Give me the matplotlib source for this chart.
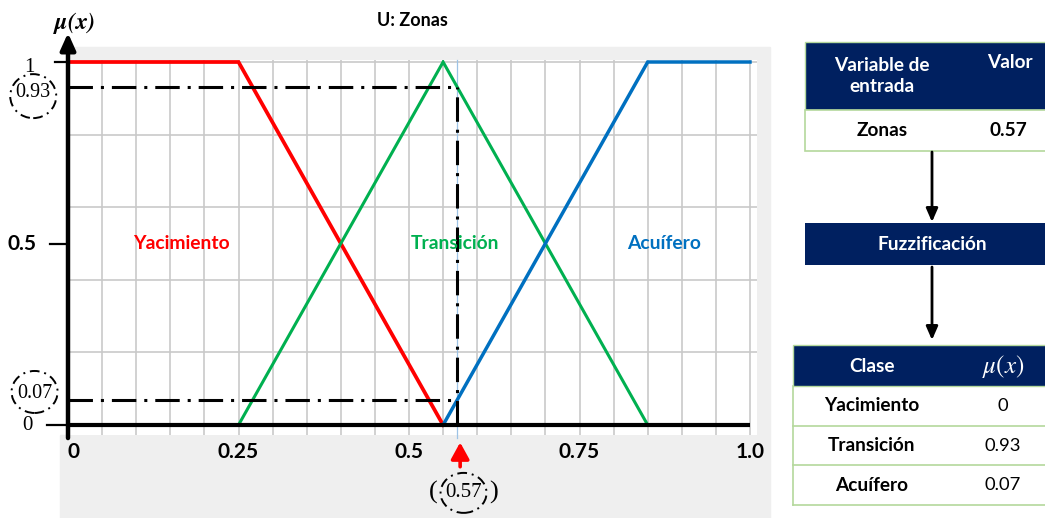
import matplotlib
matplotlib.use("Agg")
import matplotlib.pyplot as plt
from matplotlib.patches import Rectangle, Ellipse
import numpy as np

# Membership functions of the input variable "Zonas"
yac_x = [0.0, 0.25, 0.55]
yac_mu = [1.0, 1.0, 0.0]
tra_x = [0.25, 0.55, 0.85]
tra_mu = [0.0, 1.0, 0.0]
acu_x = [0.55, 0.85, 1.0]
acu_mu = [0.0, 1.0, 1.0]

classes = ["Yacimiento", "Transición", "Acuífero"]
class_colors = ["#ff0000", "#00b050", "#0070c0"]
class_label_x = [0.166, 0.568, 0.874]

variable_name = "Zonas"
input_value = 0.57
memberships = [0.0, 0.93, 0.07]

xticks = [0, 0.25, 0.5, 0.75, 1.0]
xtick_labels = ["0", "0.25", "0.5", "0.75", "1.0"]

SANS = "Lato"
SERIF = "Liberation Serif"
NAVY = "#002060"
LIGHT_GREEN = "#b4d89c"
GRID = "#c9c9c9"

W, H = 1045, 518
fig = plt.figure(figsize=(W / 100, H / 100), dpi=100)
fig.patch.set_facecolor("white")


def fx(px):
    return px / W


def fy(py):
    return 1 - py / H


# light grey frame around the plotting area
fig.patches.append(Rectangle((fx(68), fy(435)), fx(770 - 68), (435 - 47) / H,
                             transform=fig.transFigure, color="#efefef", zorder=-2))
fig.patches.append(Rectangle((fx(60), 0), fx(770 - 60), (518 - 435) / H,
                             transform=fig.transFigure, color="#efefef", zorder=-2))

# main chart axes (x: 0 -> 1, y: 0 -> 1)
ax = fig.add_axes([fx(68), fy(435), fx(757 - 68), (435 - 60) / H])
ax.set_xlim(0, 689 / 682)
ax.set_ylim(-10 / 363, 1 + 2 / 363)
ax.set_facecolor("white")
for sp in ax.spines.values():
    sp.set_visible(False)
ax.set_xticks([])
ax.set_yticks([])

for xv in np.arange(0.05, 1.0001, 0.05):
    ax.axvline(xv, color=GRID, lw=1.2, zorder=1)
for yv in np.arange(0.2, 1.0001, 0.2):
    ax.axhline(yv, color=GRID, lw=1.2, zorder=1)

# membership curves
for xs, ys, c, lw in [(yac_x, yac_mu, class_colors[0], 2.7),
                      (tra_x, tra_mu, class_colors[1], 2.2),
                      (acu_x, acu_mu, class_colors[2], 2.5)]:
    ax.plot(xs, ys, color=c, lw=lw, zorder=4, solid_joinstyle="miter")

# baseline
ax.plot([0, 1.0], [0, 0], color="black", lw=3.0, zorder=5, solid_capstyle="butt")

# reading of the input value
dd = (0, (8, 2.6, 1, 2.6))
ax.plot([input_value, input_value], [-0.035, 1 + 2 / 363], color="#9dc3e6", lw=0.9,
        zorder=3, clip_on=False)
ax.plot([0, input_value], [memberships[1]] * 2, color="black", lw=2.2, ls=dd, zorder=6)
ax.plot([0, input_value], [memberships[2]] * 2, color="black", lw=2.2, ls=dd, zorder=6)
ax.plot([input_value] * 2, [0, memberships[1]], color="black", lw=2.2, ls=dd, zorder=6)

# class names
for name, c, lx in zip(classes, class_colors, class_label_x):
    ax.text(lx, 0.5, name, color=c, fontsize=13.9, fontweight="bold", family=SANS,
            ha="center", va="center", zorder=7)

# y axis with arrow
ax.annotate("", xy=(0, 1.08), xytext=(0, -0.036),
            arrowprops=dict(arrowstyle="-|>,head_length=1.0,head_width=0.45",
                            color="black", lw=3.2, shrinkA=0, shrinkB=0),
            annotation_clip=False, zorder=8)
ax.plot([-0.019, -0.004], [1, 1], color="black", lw=1.6, clip_on=False, zorder=8)
ax.plot([-0.026, -0.004], [0.5, 0.5], color="black", lw=1.6, clip_on=False, zorder=8)
ax.plot([-0.031, -0.004], [0, 0], color="black", lw=1.6, clip_on=False, zorder=8)

ax.text(-0.056, 0.985, "1", family=SERIF, fontsize=15, ha="center", va="center")
ax.text(-0.059, 0.0, "0", family=SERIF, fontsize=15, ha="center", va="center")
ax.text(-0.068, 0.5, "0.5", family=SANS, fontweight="bold", fontsize=15,
        ha="center", va="center")

# circled membership readings
ellipse_kw = dict(fill=False, ec="black", lw=1.4, ls=(0, (5, 2.5, 1, 2.5)), clip_on=False)
ax.text(-0.051, memberships[1] - 0.013, f"{memberships[1]:g}", family=SERIF,
        fontsize=14.5, ha="center", va="center")
ax.add_patch(Ellipse((-0.051, memberships[1] - 0.024), 46 / 682, 44 / 363, **ellipse_kw))
ax.text(-0.049, memberships[2] + 0.018, f"{memberships[2]:g}", family=SERIF,
        fontsize=14.5, ha="center", va="center")
ax.add_patch(Ellipse((-0.049, memberships[2] + 0.021), 46 / 682, 42 / 363, **ellipse_kw))

# x tick labels
for xv, lab in zip(xticks, xtick_labels):
    ax.text(xv, -0.074, lab, family=SANS, fontweight="bold", fontsize=15,
            ha="left" if xv == 0 else "center", va="center", clip_on=False)

# input value marker below the axis
ax.annotate("", xy=(input_value + 0.005, -0.048), xytext=(input_value + 0.005, -0.115),
            arrowprops=dict(arrowstyle="-|>,head_length=1.0,head_width=0.55",
                            color="red", lw=2.6, shrinkA=0, shrinkB=0),
            annotation_clip=False)
mark_x = input_value + 0.01
ax.text(mark_x, -0.187, f"{input_value:g}", family=SERIF, fontsize=15,
        ha="center", va="center")
ax.text(mark_x - 0.044, -0.185, "(", family=SERIF, fontsize=19, ha="center", va="center")
ax.text(mark_x + 0.044, -0.185, ")", family=SERIF, fontsize=19, ha="center", va="center")
ax.add_patch(Ellipse((mark_x, -0.187), 46 / 682, 40 / 363, **ellipse_kw))

# axis title and variable name
fig.text(fx(74), fy(23), r"$\mathbfit{\mu(x)}$", fontsize=17, ha="center", va="center",
         math_fontfamily="stix")
fig.text(fx(412), fy(21), f"U: {variable_name}", family=SANS, fontweight="bold",
         fontsize=13, ha="center", va="center")

# ---- fuzzification panel ----
ov = fig.add_axes([0, 0, 1, 1])
ov.set_xlim(0, W)
ov.set_ylim(H, 0)
ov.axis("off")
ov.patch.set_alpha(0)

TF = 13.7

# input table
ov.add_patch(Rectangle((805, 42), 250, 68, fc=NAVY, ec=LIGHT_GREEN, lw=1.0))
ov.add_patch(Rectangle((805, 110), 250, 41, fc="white", ec=LIGHT_GREEN, lw=1.2))
ov.text(882, 76, "Variable de\nentrada", color="white", family=SANS, fontweight="bold",
        fontsize=TF, ha="center", va="center", linespacing=1.3)
ov.text(1010, 62, "Valor", color="white", family=SANS, fontweight="bold",
        fontsize=TF, ha="center", va="center")
ov.text(882, 130, variable_name, color="black", family=SANS, fontweight="bold",
        fontsize=TF, ha="center", va="center")
ov.text(1008, 130, f"{input_value:g}", color="black", family=SANS, fontweight="bold",
        fontsize=TF, ha="center", va="center")

arrow_kw = dict(arrowstyle="-|>,head_length=0.8,head_width=0.35", color="black", lw=2.0,
                shrinkA=0, shrinkB=0)
ov.annotate("", xy=(932, 222), xytext=(932, 152), arrowprops=arrow_kw)

ov.add_patch(Rectangle((805, 223), 250, 42, fc=NAVY, ec="none"))
ov.text(932, 244, "Fuzzificación", color="white", family=SANS, fontweight="bold",
        fontsize=TF, ha="center", va="center")

ov.annotate("", xy=(932, 340), xytext=(932, 267), arrowprops=arrow_kw)

# output table
ov.add_patch(Rectangle((793, 345), 260, 41, fc=NAVY, ec=LIGHT_GREEN, lw=1.0))
ov.text(872, 366, "Clase", color="white", family=SANS, fontweight="bold",
        fontsize=TF, ha="center", va="center")
ov.text(1003, 366, r"$\mu(x)$", color="white", fontsize=18, ha="center", va="center",
        math_fontfamily="stix")
ov.plot([793, 793], [386, 505], color=LIGHT_GREEN, lw=1.2)
row_top = 386
row_h = 39.7
for i, (name, mu) in enumerate(zip(classes, memberships)):
    yc = row_top + row_h * (i + 0.5)
    ov.plot([793, W], [row_top + row_h * (i + 1)] * 2, color=LIGHT_GREEN, lw=1.2)
    ov.text(872, yc, name, color="black", family=SANS, fontweight="bold", fontsize=TF,
            ha="center", va="center")
    ov.text(1003, yc, f"{mu:g}", color="black", family=SANS, fontsize=13.2,
            ha="center", va="center")

fig.savefig("out.png", dpi=100)
